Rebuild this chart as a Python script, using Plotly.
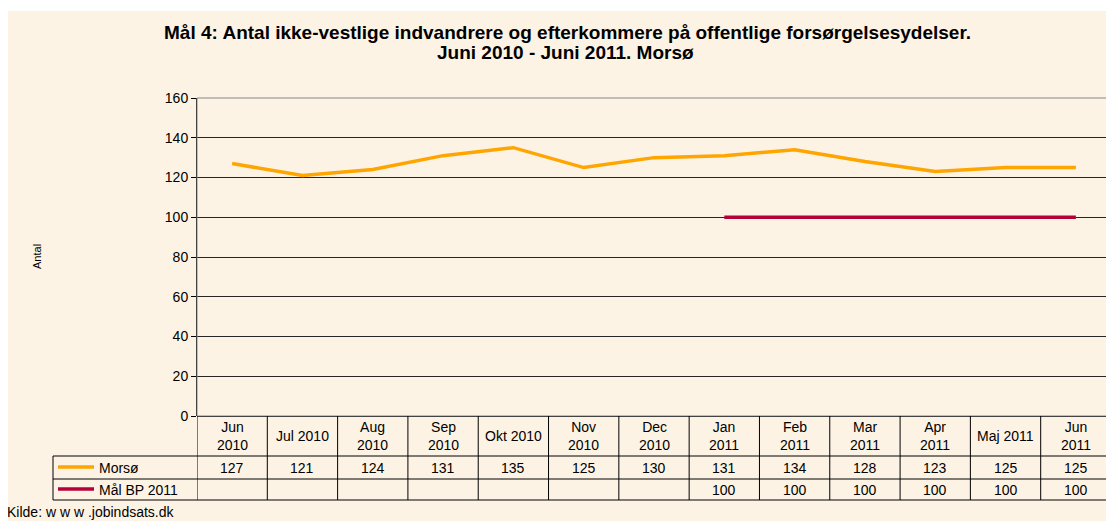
import plotly.graph_objects as go

# ---- data ----
categories = ["Jun 2010", "Jul 2010", "Aug 2010", "Sep 2010", "Okt 2010", "Nov 2010",
              "Dec 2010", "Jan 2011", "Feb 2011", "Mar 2011", "Apr 2011", "Maj 2011", "Jun 2011"]
header_labels = ["Jun<br>2010", "Jul 2010", "Aug<br>2010", "Sep<br>2010", "Okt 2010", "Nov<br>2010",
                 "Dec<br>2010", "Jan<br>2011", "Feb<br>2011", "Mar<br>2011", "Apr<br>2011", "Maj 2011", "Jun<br>2011"]
morso = [127, 121, 124, 131, 135, 125, 130, 131, 134, 128, 123, 125, 125]
maal_bp = [None, None, None, None, None, None, None, 100, 100, 100, 100, 100, 100]
series_names = ["Morsø", "Mål BP 2011"]
y_ticks = [0, 20, 40, 60, 80, 100, 120, 140, 160]

title_line1 = "<b>Mål 4: Antal ikke-vestlige indvandrere og efterkommere på offentlige forsørgelsesydelser.</b>"
title_line2 = "<b>Juni 2010 - Juni 2011. Morsø</b>"
source_text = "Kilde: w w w .jobindsats.dk"
y_title = "Antal"

# ---- geometry (page pixels; the page body has an 8px margin) ----
PAGE_W, PAGE_H = 1114, 521
OFF = 8
W, H = PAGE_W - OFF, PAGE_H - OFF
PL, PR, PT, PB = 197, 1111, 98, 416          # plot area in page pixels
ML, MR, MT, MB = PL - OFF, W - (PR - OFF), PT - OFF, H - (PB - OFF)
PW, PH = PR - PL, PB - PT


def px_x(px):
    return (px - PL) / PW


def px_y(py):
    return (PB - py) / PH


FONT = "Liberation Sans, Arial, sans-serif"
BG = "#FDF3E5"
ORANGE = "#FFA500"
RED = "#B5003A"

header_bottom = px_y(456)
row1_bottom = px_y(479)
row2_bottom = px_y(500)
legend_left = px_x(53)

fig = go.Figure()
fig.add_trace(go.Scatter(x=categories, y=morso, mode="lines", name=series_names[0],
                         line=dict(color=ORANGE, width=3.5), legend="legend"))
fig.add_trace(go.Scatter(x=categories, y=maal_bp, mode="lines", name=series_names[1],
                         line=dict(color=RED, width=3.5), legend="legend2"))

shapes = []
# background panel
shapes.append(dict(type="rect", xref="paper", yref="paper", x0=px_x(7), x1=px_x(PAGE_W + 2),
                   y0=px_y(PAGE_H + 2), y1=px_y(11),
                   fillcolor=BG, line=dict(width=0), layer="below"))
# plot border
shapes.append(dict(type="rect", xref="paper", yref="paper", x0=0, x1=1, y0=0, y1=1,
                   line=dict(color="#868686", width=1), layer="above"))
shapes.append(dict(type="line", xref="paper", yref="paper", x0=1, x1=1, y0=0, y1=1,
                   line=dict(color="#868686", width=2)))

# table vertical lines
n = len(categories)
for i in range(n + 1):
    shapes.append(dict(type="line", xref="x", yref="paper", x0=i - 0.5, x1=i - 0.5,
                       y0=0, y1=row2_bottom, line=dict(color="#000000", width=1)))
shapes.append(dict(type="line", xref="paper", yref="paper", x0=legend_left, x1=legend_left,
                   y0=header_bottom, y1=row2_bottom, line=dict(color="#000000", width=1)))
for yy in [header_bottom, row1_bottom, row2_bottom]:
    shapes.append(dict(type="line", xref="paper", yref="paper", x0=legend_left, x1=1,
                       y0=yy, y1=yy, line=dict(color="#000000", width=1)))

annotations = []
# title lines
annotations.append(dict(x=px_x(567), xref="paper", y=px_y(33), yref="paper", text=title_line1,
                        showarrow=False, xanchor="center", yanchor="middle",
                        font=dict(family=FONT, size=19, color="#000000")))
annotations.append(dict(x=px_x(565), xref="paper", y=px_y(53), yref="paper", text=title_line2,
                        showarrow=False, xanchor="center", yanchor="middle",
                        font=dict(family=FONT, size=19, color="#000000")))
# header cells
for cat, lab in zip(categories, header_labels):
    annotations.append(dict(x=cat, xref="x", y=(0 + header_bottom) / 2, yref="paper", text=lab,
                            showarrow=False, xanchor="center", yanchor="middle",
                            font=dict(family=FONT, size=14, color="#000000")))
# value cells
for series, ymid in [(morso, (header_bottom + row1_bottom) / 2), (maal_bp, (row1_bottom + row2_bottom) / 2)]:
    for cat, v in zip(categories, series):
        if v is None:
            continue
        annotations.append(dict(x=cat, xref="x", y=ymid, yref="paper", text=str(v),
                                showarrow=False, xanchor="center", yanchor="middle",
                                font=dict(family=FONT, size=14, color="#000000")))
annotations.append(dict(x=px_x(5), xref="paper", y=px_y(512), yref="paper", text=source_text,
                        showarrow=False, xanchor="left", yanchor="middle",
                        font=dict(family=FONT, size=14, color="#000000")))
annotations.append(dict(x=px_x(37), xref="paper", y=0.5, yref="paper", text=y_title, textangle=-90,
                        showarrow=False, xanchor="center", yanchor="middle",
                        font=dict(family=FONT, size=11, color="#000000")))

leg_common = dict(xref="paper", yref="paper", xanchor="left", yanchor="middle",
                  bgcolor="rgba(0,0,0,0)", borderwidth=0, itemwidth=36,
                  font=dict(family=FONT, size=14, color="#000000"))

fig.update_layout(
    width=W, height=H,
    margin=dict(l=ML, r=MR, t=MT, b=MB),
    paper_bgcolor="#FFFFFF",
    plot_bgcolor=BG,
    xaxis=dict(type="category", range=[-0.5, n - 0.5], showticklabels=False, showgrid=False,
               ticks="", showline=False, zeroline=False, fixedrange=True),
    yaxis=dict(range=[0, 160], tickvals=y_ticks, showgrid=True, gridcolor="#262626", gridwidth=1,
               showline=True, linecolor="#000000", linewidth=1, ticks="outside", ticklen=5,
               tickcolor="#000000", zeroline=True, zerolinecolor="#000000", zerolinewidth=1,
               tickfont=dict(family=FONT, size=14, color="#000000"), fixedrange=True),
    legend=dict(x=legend_left, y=(header_bottom + row1_bottom) / 2, **leg_common),
    legend2=dict(x=legend_left, y=(row1_bottom + row2_bottom) / 2, **leg_common),
    shapes=shapes,
    annotations=annotations,
    showlegend=True,
)

fig.write_html("out.html")
